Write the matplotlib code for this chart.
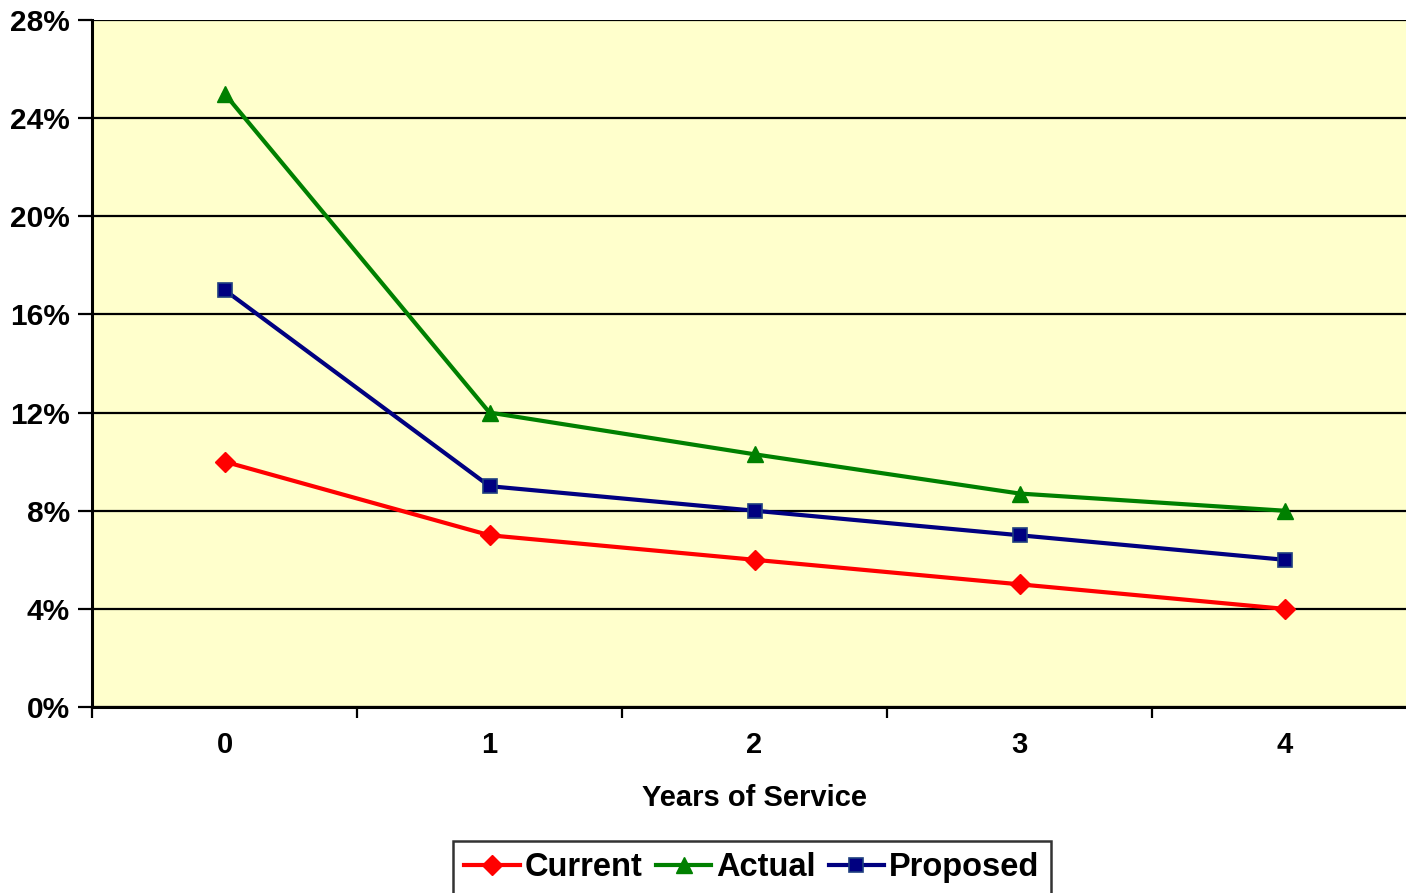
import matplotlib.pyplot as plt
import numpy as np
from matplotlib.ticker import FixedLocator, FuncFormatter

plt.rcParams['font.family'] = ['Liberation Sans', 'DejaVu Sans']
plt.rcParams['font.weight'] = 'bold'

years = [0, 1, 2, 3, 4]
current = [10, 7, 6, 5, 4]
actual = [25, 12, 10.3, 8.7, 8]
proposed = [17, 9, 8, 7, 6]
y_ticks = [0, 4, 8, 12, 16, 20, 24, 28]

fig = plt.figure(figsize=(14.06, 8.93), dpi=100)
ax = fig.add_axes([92 / 1406, 1 - 707 / 893, 1325 / 1406, 687 / 893])
ax.set_facecolor('#FFFFCC')

x = np.arange(len(years))
ax.plot(x, current, color='#FF0000', lw=3, marker='D', ms=10, label='Current', zorder=3)
ax.plot(x, actual, color='#008000', lw=3, marker='^', ms=12, label='Actual', zorder=3)
ax.plot(x, proposed, color='#000080', lw=3, marker='s', ms=10, mfc='#000080',
        mec='#1F3F7F', mew=1.2, label='Proposed', zorder=3)

ax.set_xlim(-0.5, len(years) - 0.5)
ax.set_ylim(0, 28)
ax.set_yticks(y_ticks)
ax.yaxis.set_major_formatter(FuncFormatter(lambda v, p: f'{v:.0f}%'))
ax.grid(axis='y', color='black', lw=1.6, zorder=1)

ax.set_xticks(x)
ax.set_xticklabels([str(v) for v in years])
ax.xaxis.set_minor_locator(FixedLocator(np.arange(-0.5, len(years), 1.0)))
ax.tick_params(axis='x', which='major', length=0, pad=17, labelsize=21)
ax.tick_params(axis='x', which='minor', length=8, width=1.6, direction='out')
ax.tick_params(axis='y', length=10, width=1.6, pad=6, labelsize=21.5)

for s in ['top', 'right']:
    ax.spines[s].set_visible(False)
for s in ['left', 'bottom']:
    ax.spines[s].set_linewidth(2.2)

ax.set_xlabel('Years of Service', fontsize=21, fontweight='bold', labelpad=18)

leg = fig.legend(loc='upper center', bbox_to_anchor=(752 / 1406, 1 - 841 / 893),
                 ncol=3, fontsize=23.5, frameon=True, fancybox=False, edgecolor='black',
                 handlelength=1.7, handletextpad=0.15, columnspacing=0.4,
                 borderpad=0.35, borderaxespad=0)
leg.get_frame().set_linewidth(1.8)
for t in leg.get_texts():
    t.set_fontweight('bold')

fig.savefig('out.png', dpi=100)
